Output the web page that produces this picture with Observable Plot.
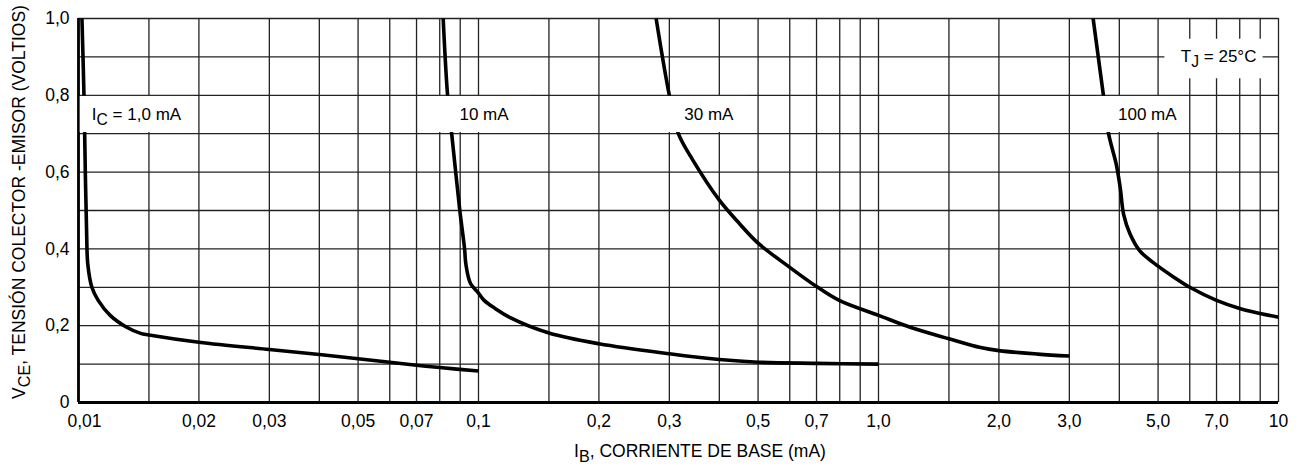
<!DOCTYPE html>
<html>
<head>
<meta charset="utf-8">
<script src="https://cdn.jsdelivr.net/npm/d3@7"></script>
<script src="https://cdn.jsdelivr.net/npm/@observablehq/plot@0.6"></script>
<style>
  html, body { margin: 0; padding: 0; background: #fff; }
  #chart svg { display: block; }
</style>
</head>
<body>
<div id="chart"></div>
<script>
// Collector-emitter saturation voltage vs base current, one curve per collector current
const seriesNames = ["1 mA", "10 mA", "30 mA", "100 mA"];

// [I_B (mA), V_CE (V)]
const curve1mA = [[0.0102,1.00],[0.01032,0.80],[0.0104,0.60],[0.01048,0.44],[0.01055,0.36],[0.0108,0.30],
  [0.0112,0.266],[0.0120,0.227],[0.0132,0.196],[0.0143,0.180],[0.015,0.176],[0.02,0.157],[0.03,0.138],
  [0.04,0.125],[0.05,0.114],[0.06,0.105],[0.07,0.097],[0.08,0.091],[0.1,0.082]];
const curve10mA = [[0.0816,1.00],[0.0837,0.80],[0.0857,0.70],[0.0877,0.60],[0.0898,0.50],[0.0923,0.40],
  [0.0930,0.36],[0.0955,0.31],[0.1,0.285],[0.1033,0.266],[0.11,0.245],[0.12,0.221],[0.15,0.181],
  [0.2,0.153],[0.3,0.127],[0.4,0.112],[0.5,0.105],[0.7,0.102],[1.0,0.100]];
const curve30mA = [[0.278,1.00],[0.30,0.80],[0.316,0.70],[0.344,0.63],[0.40,0.527],[0.45,0.465],
  [0.50,0.415],[0.60,0.352],[0.70,0.302],[0.80,0.265],[1.0,0.227],[1.2,0.196],[1.5,0.166],[1.8,0.143],
  [2.0,0.135],[2.5,0.126],[3.0,0.121]];
const curve100mA = [[3.44,1.00],[3.65,0.80],[3.76,0.70],[3.93,0.62],[4.02,0.56],[4.1,0.49],[4.25,0.44],
  [4.5,0.395],[5.0,0.355],[5.5,0.325],[6.0,0.30],[7.0,0.266],[8.0,0.245],[9.0,0.232],[10.0,0.222]];
const curves = [curve1mA, curve10mA, curve30mA, curve100mA];

// Axis ticks and labels
const xTicks = [0.01,0.02,0.03,0.05,0.07,0.1,0.2,0.3,0.5,0.7,1,2,3,5,7,10];
const xTickLabels = ["0,01","0,02","0,03","0,05","0,07","0,1","0,2","0,3","0,5","0,7","1,0","2,0","3,0","5,0","7,0","10"];
const yTicks = [0,0.2,0.4,0.6,0.8,1.0];
const yTickLabels = ["0","0,2","0,4","0,6","0,8","1,0"];

// Grid
const gridMantissas = [1,1.5,2,3,4,5,6,7,8,9];
const gridDecades = [0.01,0.1,1];
const gridX = gridDecades.flatMap(d => gridMantissas.map(m => +(m * d).toPrecision(3))).concat([10]);
const gridY = [0.1,0.2,0.3,0.4,0.5,0.6,0.7,0.8,0.9,1.0];

// In-plot annotations ("_{...}" marks a subscript)
const labelText = ["I_{C} = 1,0 mA", "10 mA", "30 mA", "100 mA", "T_{J} = 25°C"];
const labelX = [0.0108, 0.0896, 0.327, 3.97, 5.7];
const labelY = [0.75, 0.75, 0.75, 0.75, 0.9];
const boxX1 = [0.0101, 0.0795, 0.29, 3.5, 5.2];
const boxX2 = [0.0195, 0.135, 0.47, 5.85, 9.15];
const boxY1 = [0.703, 0.703, 0.703, 0.703, 0.843];
const boxY2 = [0.797, 0.797, 0.797, 0.797, 0.946];

const lineData = curves.flatMap((c, i) => c.map(([ib, vce]) => ({series: seriesNames[i], ib, vce})));
const labels = labelText.map((t, i) => ({t, x: labelX[i], y: labelY[i]}));
const boxes = boxX1.map((x1, i) => ({x1, x2: boxX2[i], y1: boxY1[i], y2: boxY2[i]}));
const xTickRows = xTicks.map((v, i) => ({v, label: xTickLabels[i]}));

const font = "'Liberation Sans', Arial, Helvetica, sans-serif";
const ink = "#000";
const gridInk = "#222";
const tickText = {x: "v", frameAnchor: "bottom", text: "label", textAnchor: "middle",
  lineAnchor: "top", dy: 12, fill: ink, fontSize: 17.5};

const chart = Plot.plot({
  width: 1300,
  height: 469,
  marginLeft: 78,
  marginRight: 22,
  marginTop: 18,
  marginBottom: 67,
  style: {fontFamily: font, fontSize: "17.5px", color: ink, background: "#fff"},
  x: {type: "log", domain: [0.01, 10], axis: null},
  y: {
    domain: [0, 1],
    ticks: yTicks,
    tickFormat: (d, i) => yTickLabels[i],
    tickSize: 0, tickPadding: 9, label: null
  },
  marks: [
    Plot.ruleX(gridX, {stroke: gridInk, strokeWidth: 1.3}),
    Plot.ruleY(gridY, {stroke: gridInk, strokeWidth: 1.3}),
    Plot.ruleX([0.01], {stroke: ink, strokeWidth: 2.8}),
    Plot.ruleY([0], {stroke: ink, strokeWidth: 2.8}),
    Plot.line(lineData, {x: "ib", y: "vce", z: "series", curve: "catmull-rom",
      stroke: ink, strokeWidth: 3.6, strokeLinecap: "butt", strokeLinejoin: "round"}),
    Plot.rect(boxes, {x1: "x1", x2: "x2", y1: "y1", y2: "y2", fill: "#fff", inset: 0}),
    Plot.text(labels, {x: "x", y: "y", text: "t", textAnchor: "start",
      fill: ink, fontSize: 17, className: "anno"}),
    // x tick labels along the bottom edge; the corner one is nudged clear of "0"
    Plot.text(xTickRows.slice(0, 1), {...tickText, dx: 6}),
    Plot.text(xTickRows.slice(1), tickText)
  ]
});

document.getElementById("chart").appendChild(chart);
const svg = d3.select(chart);

// Rebuild "_{...}" labels with real subscript tspans
function withSubscript(sel, str) {
  const m = /^(.*?)_\{(.*?)\}(.*)$/.exec(str);
  sel.text(null);
  if (!m) { sel.text(str); return; }
  sel.append("tspan").text(m[1]);
  sel.append("tspan").attr("dy", "0.3em").attr("font-size", "0.92em").text(m[2]);
  sel.append("tspan").attr("dy", "-0.3em").text(m[3]);
}
svg.selectAll(".anno text").each(function() {
  withSubscript(d3.select(this), this.textContent);
});

// Axis titles
const xTitle = svg.append("text")
  .attr("x", 700).attr("y", 457)
  .attr("text-anchor", "middle")
  .attr("font-family", font).attr("font-size", 17.5).attr("fill", ink);
withSubscript(xTitle, "I_{B}, CORRIENTE DE BASE (mA)");

const yTitle = svg.append("text")
  .attr("transform", "translate(25,202) rotate(-90)")
  .attr("text-anchor", "middle")
  .attr("font-family", font).attr("font-size", 17.5).attr("fill", ink);
withSubscript(yTitle, "V_{CE}, TENSIÓN COLECTOR -EMISOR (VOLTIOS)");
</script>
</body>
</html>
